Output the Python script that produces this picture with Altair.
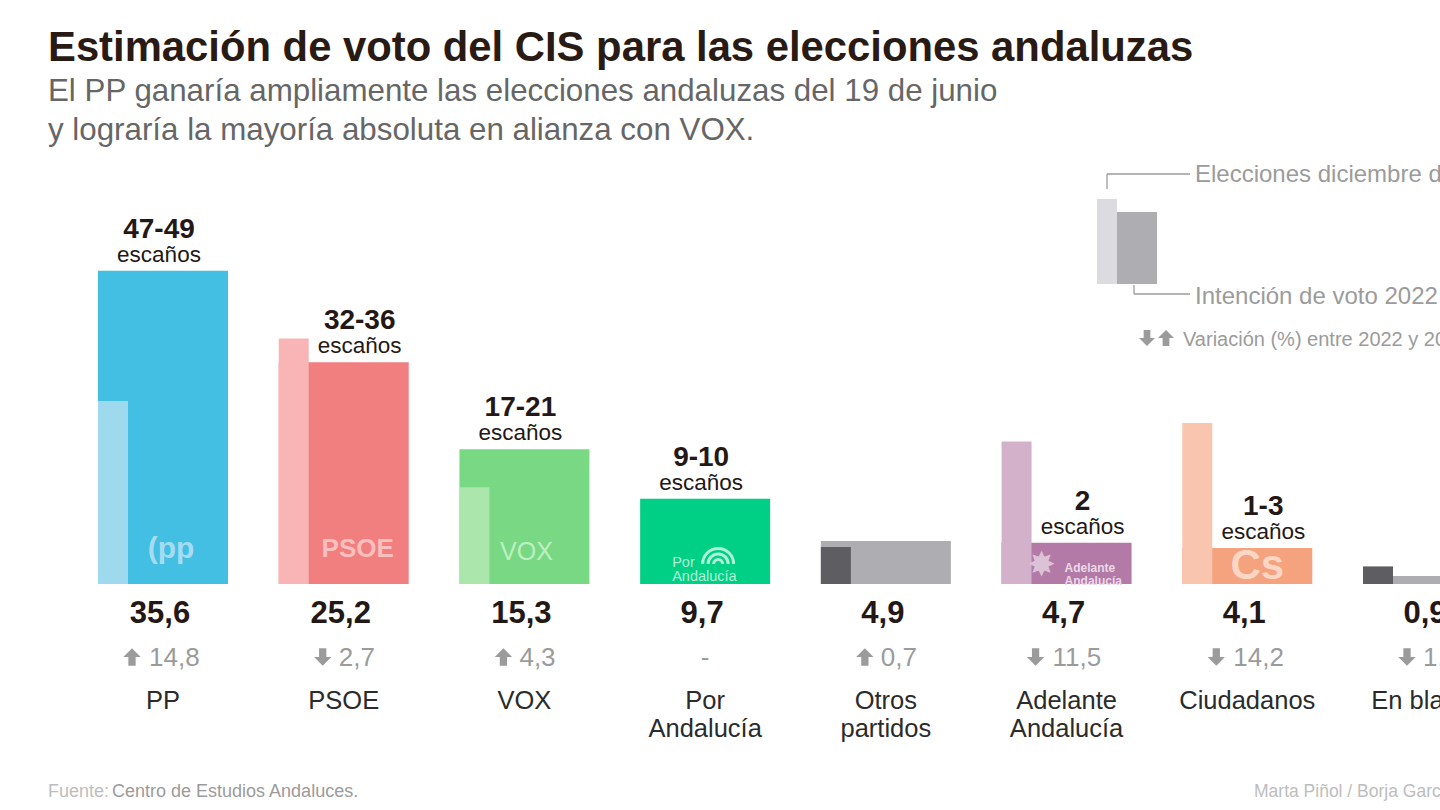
import altair as alt
import pandas as pd

# ---------------- data ----------------
parties = ["PP", "PSOE", "VOX", "Por Andalucía", "Otros partidos",
           "Adelante Andalucía", "Ciudadanos", "En blanco"]
display_names = ["PP", "PSOE", "VOX", "Por\nAndalucía", "Otros\npartidos",
                 "Adelante\nAndalucía", "Ciudadanos", "En blanco"]
vote_2022 = [35.6, 25.2, 15.3, 9.7, 4.9, 4.7, 4.1, 0.9]
variation = [14.8, -2.7, 4.3, None, 0.7, -11.5, -14.2, -1.1]   # 2022 vs 2018
seats = ["47-49", "32-36", "17-21", "9-10", "", "2", "1-3", ""]

colors_2022 = ["#42bfe3", "#f27f80", "#78d883", "#00d085", "#aeadb2",
               "#b37aa8", "#f5a27f", "#aeadb2"]
colors_2018 = ["#9ed9ee", "#f9b5b5", "#abe6ad", "#9ff0cf", "#5e5d62",
               "#d4b1cb", "#f9c5ae", "#5e5d62"]

SANS = "Liberation Sans, Arial, sans-serif"
GREY = "#9b9b9b"
DARK = "#231815"

ARROW_UP = "M0,-1L1,0L0.42,0L0.42,1L-0.42,1L-0.42,0L-1,0Z"
ARROW_DOWN = "M0,1L1,0L0.42,0L0.42,-1L-0.42,-1L-0.42,0L-1,0Z"


def fmt(v):
    return f"{v:.1f}".replace(".", ",")


rows = []
for i, p in enumerate(parties):
    v22 = vote_2022[i]
    var = variation[i]
    v18 = round(v22 - var, 1) if var is not None else None
    rows.append(dict(
        party=p, party18=p + " 2018", name=display_names[i],
        v2022=v22, v2018=v18, value_label=fmt(v22),
        var_num="-" if var is None else fmt(abs(var)),
        direction="none" if var is None else ("up" if var > 0 else "down"),
        seats=seats[i]))
df = pd.DataFrame(rows)

x_enc = alt.X("party:N", sort=parties, axis=None,
              scale=alt.Scale(domain=parties, range=[98, 1493],
                              paddingInner=0.2806, paddingOuter=0))
y_scale = alt.Scale(domain=[0, 40], range=[584, 232])
color_scale = alt.Scale(domain=parties + [p + " 2018" for p in parties],
                        range=colors_2022 + colors_2018)
shape_scale = alt.Scale(domain=["up", "down"], range=[ARROW_UP, ARROW_DOWN])

base = alt.Chart(df)

bars22 = base.mark_bar().encode(
    x=x_enc,
    y=alt.Y("v2022:Q", scale=y_scale, axis=None),
    color=alt.Color("party:N", scale=color_scale, legend=None),
)
bars18 = base.transform_filter("isValid(datum.v2018)").mark_bar(
    width=30, xOffset=-50).encode(
    x=x_enc,
    y=alt.Y("v2018:Q", scale=y_scale, axis=None),
    color=alt.Color("party18:N", scale=color_scale, legend=None),
)

# seat labels
seat_base = base.transform_filter("datum.seats != ''")
taller18 = "isValid(datum.v2018) && datum.v2018 > datum.v2022"
seat_layers = []
for cond, dx in [(taller18, 16), ("!(" + taller18 + ")", -4)]:
    sb = seat_base.transform_filter(cond)
    seat_layers.append(sb.mark_text(font=SANS, fontWeight="bold", fontSize=28,
                                    baseline="alphabetic", dy=-33, dx=dx,
                                    color=DARK).encode(
        x=x_enc, y=alt.Y("v2022:Q", scale=y_scale, axis=None), text="seats:N"))
    seat_layers.append(sb.mark_text(font=SANS, fontSize=22.5,
                                    baseline="alphabetic", dy=-9, dx=dx,
                                    color=DARK).encode(
        x=x_enc, y=alt.Y("v2022:Q", scale=y_scale, axis=None),
        text=alt.value("escaños")))

values_txt = base.mark_text(font=SANS, fontWeight="bold", fontSize=31,
                            baseline="alphabetic", dx=-3, color=DARK).encode(
    x=x_enc, y=alt.value(623), text="value_label:N")

# variation: arrow symbol + number
var_layers = []
no_var = base.transform_filter("datum.direction == 'none'")
var_layers.append(no_var.mark_text(font=SANS, fontSize=26, baseline="alphabetic",
                                   color=GREY).encode(
    x=x_enc, y=alt.value(666), text="var_num:N"))
for cond, tdx, adx in [("length(datum.var_num) >= 4", -14, -31),
                       ("length(datum.var_num) < 4", -5, -21)]:
    vb = base.transform_filter("datum.direction != 'none'").transform_filter(cond)
    var_layers.append(vb.mark_text(font=SANS, fontSize=26, baseline="alphabetic",
                                   align="left", dx=tdx, color=GREY).encode(
        x=x_enc, y=alt.value(666), text="var_num:N"))
    var_layers.append(vb.mark_point(filled=True, size=300, opacity=1,
                                    color=GREY, xOffset=adx).encode(
        x=x_enc, y=alt.value(657),
        shape=alt.Shape("direction:N", scale=shape_scale, legend=None)))

names_txt = base.mark_text(font=SANS, fontSize=25.5, baseline="alphabetic",
                           lineBreak="\n", lineHeight=28, color="#2b2b2b").encode(
    x=x_enc, y=alt.value(709), text="name:N")


# logos approximated with text
def logo(party, text, dx, y, **kw):
    return base.transform_filter(alt.datum.party == party).mark_text(
        dx=dx, lineBreak="\n", baseline="middle", **kw).encode(
        x=x_enc, y=alt.value(y), text=alt.value(text))


def ring(party, r_out, r_in, dx, y, color):
    return base.transform_filter(alt.datum.party == party).mark_arc(
        theta=4.7124, theta2=7.854, radius=r_out, radius2=r_in, xOffset=dx,
        color=color).encode(x=x_enc, y=alt.value(y))


logos = [
    logo("PP", "(pp", 8, 549, font=SANS, fontWeight="bold", fontSize=30,
         color="#a7dcf0"),
    logo("PSOE", "PSOE", 14, 549, font=SANS, fontWeight="bold", fontSize=26,
         color="#fbbfbe"),
    logo("VOX", "VOX", 2, 552, font=SANS, fontSize=25, color="#bdf0c1"),
    logo("Por Andalucía", "Por\nAndalucía", -33, 563, font=SANS, fontSize=14.5,
         align="left", lineHeight=14, color="#b0f2d6"),
    ring("Por Andalucía", 17, 14, 13, 564, "#b0f2d6"),
    ring("Por Andalucía", 11.5, 8.5, 13, 564, "#b0f2d6"),
    ring("Por Andalucía", 6, 3, 13, 564, "#b0f2d6"),
    logo("Adelante Andalucía", "Adelante\nAndalucía", -2, 568, font=SANS,
         fontWeight="bold", fontSize=12, align="left", lineHeight=13,
         color="#ead8e7"),
    logo("Adelante Andalucía", "✸", -25, 566, font="DejaVu Sans", fontSize=34,
         color="#dcc2d7"),
    logo("Ciudadanos", "Cs", 10, 566, font=SANS, fontWeight="bold", fontSize=42,
         color="#fcd6c4"),
]

# legend (top right)
one = alt.Data(values=[{}])
leg_light = alt.Chart(one).mark_rect(color="#dcdce0").encode(
    x=alt.value(1097), x2=alt.value(1117), y=alt.value(199), y2=alt.value(284))
leg_dark = alt.Chart(one).mark_rect(color="#adadb2").encode(
    x=alt.value(1117), x2=alt.value(1157), y=alt.value(212), y2=alt.value(284))
rule_kw = dict(color=GREY, strokeWidth=1.3)
leg_rules = [
    alt.Chart(one).mark_rule(**rule_kw).encode(
        x=alt.value(1107), y=alt.value(174), y2=alt.value(189)),
    alt.Chart(one).mark_rule(**rule_kw).encode(
        x=alt.value(1107), x2=alt.value(1190), y=alt.value(174)),
    alt.Chart(one).mark_rule(**rule_kw).encode(
        x=alt.value(1134), y=alt.value(285), y2=alt.value(294)),
    alt.Chart(one).mark_rule(**rule_kw).encode(
        x=alt.value(1134), x2=alt.value(1190), y=alt.value(294)),
]
leg_arrows = [
    alt.Chart(one).mark_point(shape=ARROW_DOWN, filled=True, size=256, opacity=1,
                              color=GREY).encode(x=alt.value(1147), y=alt.value(338)),
    alt.Chart(one).mark_point(shape=ARROW_UP, filled=True, size=256, opacity=1,
                              color=GREY).encode(x=alt.value(1166), y=alt.value(338)),
]


def free_text(text, x, y, size, color, font=SANS, weight="normal", align="left"):
    return alt.Chart(one).mark_text(
        text=text, font=font, fontSize=size, fontWeight=weight, color=color,
        align=align, baseline="alphabetic").encode(x=alt.value(x), y=alt.value(y))


texts = [
    free_text("Estimación de voto del CIS para las elecciones andaluzas", 48, 61,
              41.8, "#2a1a14", weight="bold"),
    free_text("El PP ganaría ampliamente las elecciones andaluzas del 19 de junio",
              48, 101, 31.3, "#666666"),
    free_text("y lograría la mayoría absoluta en alianza con VOX.", 48, 140, 31.3,
              "#666666"),
    free_text("Elecciones diciembre de 2018", 1195, 182, 24, GREY),
    free_text("Intención de voto 2022", 1195, 304, 24, GREY),
    free_text("Variación (%) entre 2022 y 2018", 1183, 346, 20, GREY),
    free_text("Fuente:", 48, 797, 18, "#bdbdbd"),
    free_text("Centro de Estudios Andaluces.", 112, 797, 18, GREY),
    free_text("Marta Piñol / Borja García", 1254, 797, 17.5, "#bdbdbd"),
]

chart = alt.layer(
    bars22, bars18, *seat_layers, values_txt, *var_layers, names_txt, *logos,
    leg_light, leg_dark, *leg_rules, *leg_arrows, *texts
).properties(
    width=1440, height=810,
    autosize=alt.AutoSizeParams(type="none"),
    padding=0, background="white",
).configure_view(stroke=None)

chart.save("out.html", embed_options={"renderer": "svg", "actions": False})
